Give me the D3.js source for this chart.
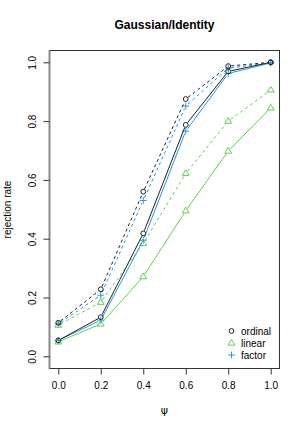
<!DOCTYPE html>
<html>
<head>
<meta charset="utf-8">
<script src="https://cdn.jsdelivr.net/npm/d3@7"></script>
<style>
  body { margin: 0; background: #fff; }
  text { font-family: "Liberation Sans", Arial, sans-serif; }
</style>
</head>
<body>
<div id="chart"></div>
<script>
// data
var psi = [0.0, 0.2, 0.4, 0.6, 0.8, 1.0];
var ordinalSolid = [0.054, 0.133, 0.418, 0.787, 0.969, 1.0];
var ordinalDashed = [0.114, 0.228, 0.56, 0.875, 0.987, 1.0];
var factorSolid = [0.054, 0.123, 0.395, 0.766, 0.962, 0.998];
var factorDashed = [0.11, 0.208, 0.53, 0.851, 0.98, 0.998];
var linearSolid = [0.049, 0.11, 0.271, 0.495, 0.698, 0.845];
var linearDashed = [0.106, 0.184, 0.384, 0.622, 0.8, 0.906];
var xTicks = [0, 0.2, 0.4, 0.6, 0.8, 1.0];
var yTicks = [0, 0.2, 0.4, 0.6, 0.8, 1.0];
var legendNames = ["ordinal", "linear", "factor"];

function init() {
  var w = 305, h = 431;
  var box = { left: 49.5, right: 279.5, top: 50.5, bottom: 368.5 };
  var black = "#222", green = "#61D04F", blue = "#2297E6";

  var x = d3.scaleLinear().domain([0, 1]).range([58.3, 270.7]);
  var y = d3.scaleLinear().domain([0, 1]).range([356.3, 62.3]);

  var svg = d3.select("#chart").append("svg")
    .attr("width", w)
    .attr("height", h);

  // title
  svg.append("text")
    .attr("x", 164.5).attr("y", 29)
    .attr("text-anchor", "middle")
    .style("font-size", "12px")
    .style("font-weight", "bold")
    .text("Gaussian/Identity");

  // plot box
  svg.append("rect")
    .attr("x", box.left).attr("y", box.top)
    .attr("width", box.right - box.left).attr("height", box.bottom - box.top)
    .attr("fill", "none").attr("stroke", "#333").attr("stroke-width", 1);
  svg.append("line")
    .attr("x1", box.left).attr("x2", box.left)
    .attr("y1", box.top).attr("y2", box.bottom)
    .attr("stroke", "#888").attr("stroke-width", 2);

  // x axis
  var xAxis = d3.axisBottom(x).tickValues(xTicks).tickSize(6).tickSizeOuter(0)
    .tickFormat(d3.format(".1f"));
  var gx = svg.append("g").attr("transform", "translate(0," + box.bottom + ")").call(xAxis);
  gx.select(".domain").remove();
  gx.selectAll(".tick line").attr("stroke", "#333");
  gx.selectAll(".tick text").attr("y", 13)
    .style("font-size", "10px").style("font-family", "Liberation Sans, Arial, sans-serif")
    .attr("fill", "#000");

  // y axis, labels parallel to the axis
  var yAxis = d3.axisLeft(y).tickValues(yTicks).tickSize(6).tickSizeOuter(0)
    .tickFormat(d3.format(".1f"));
  var gy = svg.append("g").attr("transform", "translate(" + box.left + ",0)").call(yAxis);
  gy.select(".domain").remove();
  gy.selectAll(".tick line").attr("stroke", "#333");
  gy.selectAll(".tick text")
    .attr("x", 0).attr("y", 0).attr("dy", "0.35em")
    .attr("transform", "translate(-17,0) rotate(-90)")
    .attr("text-anchor", "middle")
    .style("font-size", "10px").style("font-family", "Liberation Sans, Arial, sans-serif")
    .attr("fill", "#000");

  // axis labels
  svg.append("text")
    .attr("transform", "translate(11," + ((box.top + box.bottom) / 2) + ") rotate(-90)")
    .attr("text-anchor", "middle")
    .style("font-size", "10px")
    .text("rejection rate");
  svg.append("text")
    .attr("x", 164.5).attr("y", 414)
    .attr("text-anchor", "middle")
    .style("font-size", "11px")
    .style("font-family", "DejaVu Sans, sans-serif")
    .text("\u03C8");

  var line = d3.line();

  var series = [
    { vals: linearDashed, col: green, dash: "3,3", pch: "tri" },
    { vals: linearSolid, col: green, dash: null, pch: "tri" },
    { vals: factorDashed, col: blue, dash: "3,3", pch: "plus" },
    { vals: factorSolid, col: blue, dash: null, pch: "plus" },
    { vals: ordinalDashed, col: black, dash: "3,3", pch: "circle" },
    { vals: ordinalSolid, col: black, dash: null, pch: "circle" }
  ];

  function drawPoint(g, cx, cy, pch, col) {
    if (pch == "circle") {
      g.append("circle").attr("cx", cx).attr("cy", cy).attr("r", 2.4)
        .attr("fill", "none").attr("stroke", col).attr("stroke-width", 1);
    } else if (pch == "tri") {
      var r = 3.6;
      g.append("path")
        .attr("d", "M" + cx + "," + (cy - r) + "L" + (cx + r * 0.95) + "," + (cy + r * 0.6) +
          "L" + (cx - r * 0.95) + "," + (cy + r * 0.6) + "Z")
        .attr("fill", "none").attr("stroke", col).attr("stroke-width", 1);
    } else {
      var s = 3.4;
      g.append("path")
        .attr("d", "M" + (cx - s) + "," + cy + "H" + (cx + s) + "M" + cx + "," + (cy - s) + "V" + (cy + s))
        .attr("fill", "none").attr("stroke", col).attr("stroke-width", 1);
    }
  }

  // type "b": segments leave a small gap round every point
  var gap = 3;
  series.forEach(function (s) {
    var g = svg.append("g");
    for (var i = 0; i < s.vals.length - 1; i++) {
      var x0 = x(psi[i]), y0 = y(s.vals[i]);
      var x1 = x(psi[i + 1]), y1 = y(s.vals[i + 1]);
      var len = Math.sqrt((x1 - x0) * (x1 - x0) + (y1 - y0) * (y1 - y0));
      if (len <= 2 * gap) continue;
      var ux = (x1 - x0) / len, uy = (y1 - y0) / len;
      g.append("path")
        .attr("d", line([[x0 + ux * gap, y0 + uy * gap], [x1 - ux * gap, y1 - uy * gap]]))
        .attr("fill", "none")
        .attr("stroke", s.col)
        .attr("stroke-width", 1)
        .attr("stroke-dasharray", s.dash);
    }
    s.vals.forEach(function (v, i) {
      drawPoint(g, x(psi[i]), y(v), s.pch, s.col);
    });
  });

  // legend
  var legCols = [black, green, blue];
  var legPch = ["circle", "tri", "plus"];
  var lg = svg.append("g");
  legendNames.forEach(function (name, i) {
    var ly = 331 + i * 12;
    drawPoint(lg, 231.5, ly, legPch[i], legCols[i]);
    lg.append("text")
      .attr("x", 241).attr("y", ly).attr("dy", "0.35em")
      .style("font-size", "10px")
      .text(name);
  });
}
window.onload = init;
</script>
</body>
</html>
